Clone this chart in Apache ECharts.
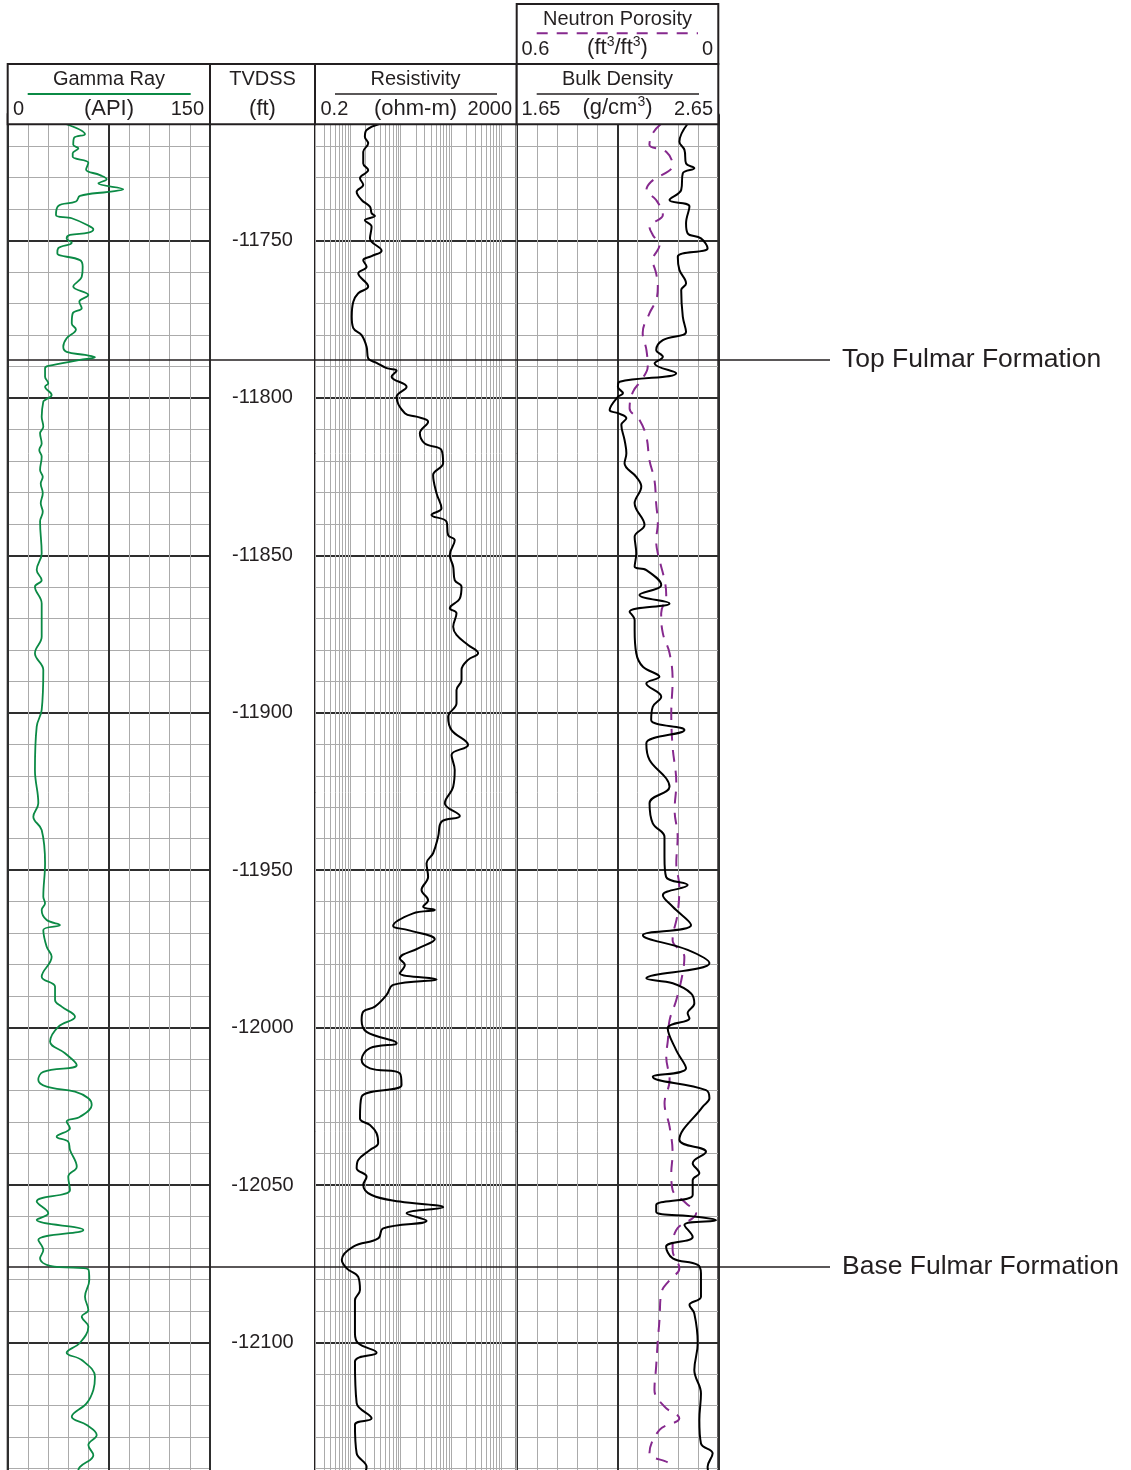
<!DOCTYPE html>
<html>
<head>
<meta charset="utf-8">
<title>Fulmar Formation well log</title>
<script src="https://cdn.jsdelivr.net/npm/echarts@6/dist/echarts.min.js"></script>
<style>
html, body { margin: 0; padding: 0; background: #fff; overflow: hidden; }
#chart { width: 1131px; height: 1470px; }
</style>
</head>
<body>
<div id="chart"></div>
<script>
// ---------------- depth scale (TVDSS, ft) ----------------
const depthMin = -12150;
const depthMax = -11710;
const depthLabelStep = 50;

// ---------------- formation tops ----------------
const formationNames  = ['Top Fulmar Formation', 'Base Fulmar Formation'];
const formationDepths = [-11788, -12076];

// ---------------- Gamma Ray (API) ----------------
const grDepth = [
  -11713.0, -11716.3, -11717.5, -11719.7, -11720.8, -11722.4, -11723.5, -11725.4, -11727.5, -11729.3,
  -11730.6, -11731.9, -11733.8, -11734.6, -11735.9, -11737.7, -11739.1, -11742.0, -11743.0, -11745.5,
  -11746.5, -11747.6, -11748.3, -11749.4, -11750.8, -11752.5, -11754.1, -11756.3, -11758.4, -11761.6,
  -11764.7, -11767.4, -11769.5, -11771.6, -11773.2, -11776.4, -11778.3, -11781.1, -11783.8, -11785.4,
  -11786.4, -11787.1, -11788.0, -11789.9, -11790.6, -11793.3, -11795.4, -11796.5, -11799.1, -11800.7,
  -11801.2, -11806.0, -11809.2, -11811.3, -11814.5, -11816.6, -11818.7, -11822.9, -11825.1, -11827.2,
  -11830.3, -11833.5, -11836.2, -11839.3, -11849.4,
  -11854.7, -11857.9, -11860.0, -11865.3, -11875.9, -11881.1, -11886.4, -11899.1, -11904.4, -11918.2,
  -11928.7, -11933.0, -11937.2, -11947.8, -11958.4, -11960.5, -11962.6, -11965.8, -11967.4, -11969.0,
  -11974.3, -11977.5, -11983.8, -11987.0, -11991.2, -11993.3, -11996.5, -11999.7, -12004.4, -12008.1,
  -12011.8, -12014.0, -12016.6, -12018.7, -12020.3, -12022.4, -12024.5, -12028.3, -12029.8, -12031.9,
  -12034.6, -12036.2, -12038.8, -12044.1, -12047.3, -12051.5, -12055.2, -12058.9, -12061.0, -12064.2,
  -12067.4, -12070.6, -12073.2, -12075.6, -12076.7, -12080.1, -12085.4, -12089.6, -12091.7, -12094.9,
  -12100.0, -12103.2, -12105.5, -12110.8, -12115.0, -12119.2, -12123.5, -12126.1, -12129.3, -12132.5,
  -12135.7, -12139.4, -12141.0
];
const grValue = [
  42.5, 57.3, 49.2, 48.6, 52.4, 48.2, 48.2, 59.8, 58.1, 68.4,
  73.4, 67.2, 85.7, 74.6, 53.6, 50.6, 37.5, 35.8, 47.5, 60.5,
  63.5, 59.8, 46.2, 43.7, 47.5, 37.5, 36.8, 53.6, 55.6, 54.9,
  48.6, 59.8, 53.1, 54.9, 48.2, 47.5, 50.6, 43.7, 41.2, 43.7,
  57.3, 64.7, 53.6, 30.1, 27.7, 27.7, 30.1, 27.7, 32.6, 27.7,
  26.4, 25.2, 26.4, 24.0, 25.2, 23.4, 25.2, 24.0, 26.0, 24.5,
  26.0, 24.5, 26.0, 24.0, 25.2,
  21.5, 25.2, 20.2, 25.2, 25.2, 20.2, 26.4, 25.2, 21.5, 20.2,
  22.7, 19.0, 25.2, 27.7, 26.4, 27.7, 25.2, 28.9, 38.8, 26.4,
  28.9, 32.6, 25.2, 35.1, 35.1, 40.0, 49.9, 37.5, 31.4, 42.5,
  51.2, 26.4, 22.7, 28.9, 49.9, 59.8, 62.3, 53.6, 43.7, 46.2,
  36.3, 44.9, 46.2, 51.2, 44.9, 46.2, 21.5, 30.1, 21.5, 56.1,
  22.7, 26.4, 24.0, 31.4, 59.8, 60.5, 57.3, 59.8, 54.9, 59.8,
  53.6, 43.7, 54.9, 64.7, 63.5, 58.6, 47.5, 58.6, 66.0, 59.8,
  63.5, 53.6, 52.0
];

// ---------------- Resistivity (ohm-m) ----------------
const resDepth = [
  -11713.0, -11715.0, -11717.1, -11719.2, -11721.9, -11725.6, -11727.7, -11730.3, -11732.4, -11734.6,
  -11737.2, -11739.3, -11741.4, -11742.3, -11743.6, -11745.7, -11749.4, -11753.3, -11755.0, -11756.3,
  -11758.4, -11760.5, -11764.7, -11766.8, -11769.5, -11774.3, -11777.9, -11780.1, -11783.8, -11787.5,
  -11788.9, -11790.6, -11791.4, -11793.3, -11796.5, -11799.7, -11804.9, -11806.0, -11807.6, -11811.3,
  -11814.5, -11816.6, -11820.8, -11824.5, -11830.3, -11835.1, -11837.2, -11839.3, -11843.6, -11845.2,
  -11849.9, -11853.6, -11857.9, -11860.0, -11863.7, -11866.8, -11868.4, -11872.7, -11875.3, -11878.5,
  -11881.1, -11883.2, -11886.4, -11889.6, -11892.8, -11897.0, -11901.3, -11905.5, -11910.2, -11913.4,
  -11918.2, -11923.5, -11928.7, -11932.8, -11934.6, -11939.4, -11944.6, -11947.8, -11952.1, -11956.3,
  -11959.5, -11961.6, -11962.6, -11963.7, -11967.7, -11969.0, -11971.9, -11974.8, -11978.0, -11980.1,
  -11982.7, -11984.6, -11986.4, -11989.6, -11993.3, -11994.9, -11997.6, -12001.3, -12004.9, -12006.5,
  -12010.2, -12012.9, -12014.5, -12018.2, -12021.9, -12028.8, -12030.9, -12033.5, -12036.7, -12038.8,
  -12042.0, -12044.6, -12047.3, -12049.9, -12053.1, -12055.2, -12057.0, -12058.9, -12061.3, -12063.7,
  -12066.9, -12069.5, -12073.7, -12076.4, -12079.1, -12083.3, -12086.5, -12097.0, -12100.2, -12103.2,
  -12106.0, -12119.2, -12124.0, -12126.1, -12135.1, -12139.4, -12141.0
];
const resValue = [
  3.9, 2.11, 1.95, 2.27, 1.81, 1.81, 2.27, 1.56, 1.81, 1.34,
  1.68, 2.46, 2.65, 3.08, 1.95, 2.65, 2.46, 4.19, 2.65, 1.81,
  2.11, 1.44, 2.27, 1.44, 1.15, 1.07, 1.15, 1.68, 2.11, 2.27,
  3.33, 5.26, 8.30, 6.61, 13.1, 8.30, 12.1, 20.6, 35.0, 24.0,
  30.1, 64.5, 69.5, 44.0, 51.4, 64.5, 40.9, 81.1, 87.3, 118,
  94.2, 110, 118, 161, 149, 94.2, 128, 110, 128, 217,
  343, 217, 161, 161, 128, 128, 87.3, 102, 217, 102,
  118, 110, 75.0, 149, 64.5, 55.3, 44.0, 32.6, 35.0, 25.9,
  35.0, 27.9, 47.5, 17.7, 7.10, 14.1, 47.5, 22.2, 9.64, 12.1,
  9.64, 51.4, 7.10, 5.26, 3.08, 1.81, 1.68, 2.11, 8.30, 2.46,
  1.68, 2.46, 9.64, 10.4, 1.68, 1.56, 2.46, 3.33, 3.58, 2.46,
  1.44, 1.34, 2.11, 1.81, 2.65, 9.64, 69.5, 13.1, 32.6, 4.50,
  3.58, 1.15, 0.68, 0.85, 1.44, 1.56, 1.24, 1.24, 1.44, 3.33,
  1.24, 1.34, 2.65, 1.24, 1.34, 2.11, 2.0
];

// ---------------- Bulk Density (g/cm3) ----------------
const denDepth = [
  -11713.0, -11718.7, -11721.3, -11725.6, -11727.1, -11728.7, -11734.0, -11737.2, -11739.3, -11744.6,
  -11747.8, -11749.4, -11752.5, -11755.2, -11759.4, -11763.7, -11765.8, -11774.3, -11779.0, -11781.7,
  -11784.8, -11787.0, -11789.1, -11792.2, -11794.9, -11796.5, -11798.6, -11799.7, -11803.9, -11804.9,
  -11806.5, -11808.6, -11813.4, -11817.6, -11820.8, -11825.1, -11828.2, -11833.5, -11840.4, -11844.1,
  -11849.4, -11853.6, -11854.7, -11859.4, -11862.6, -11865.3, -11867.9, -11870.6, -11873.7, -11881.1,
  -11885.4, -11888.6, -11890.7, -11894.9, -11898.1, -11902.3, -11905.5, -11909.7, -11915.0, -11920.8,
  -11923.5, -11928.7, -11935.1, -11939.4, -11945.7, -11952.1, -11954.7, -11957.9, -11961.6, -11967.4,
  -11970.6, -11975.3, -11979.5, -11984.3, -11985.9, -11989.1, -11992.3, -11995.4, -11997.0, -12000.2,
  -12007.1, -12012.9, -12015.6, -12019.8, -12022.4, -12025.1, -12035.6, -12039.4, -12043.0, -12046.2,
  -12048.4, -12053.1, -12056.3, -12058.4, -12060.0, -12061.1, -12062.6, -12066.4, -12069.5, -12073.2,
  -12075.3, -12078.0, -12085.4, -12088.0, -12090.7, -12100.2, -12108.7, -12116.1, -12124.5, -12132.0,
  -12135.1, -12139.4, -12141.0
];
const denValue = [
  2.498, 2.457, 2.482, 2.490, 2.531, 2.474, 2.466, 2.408, 2.507, 2.490,
  2.498, 2.564, 2.597, 2.449, 2.457, 2.490, 2.466, 2.474, 2.490, 2.375,
  2.342, 2.375, 2.334, 2.441, 2.161, 2.152, 2.177, 2.152, 2.111, 2.152,
  2.194, 2.169, 2.185, 2.194, 2.185, 2.243, 2.268, 2.235, 2.284, 2.235,
  2.243, 2.235, 2.293, 2.367, 2.259, 2.408, 2.210, 2.235, 2.235, 2.243,
  2.276, 2.358, 2.293, 2.367, 2.325, 2.317, 2.482, 2.293, 2.309, 2.391,
  2.408, 2.309, 2.325, 2.383, 2.383, 2.391, 2.498, 2.375, 2.424, 2.515,
  2.276, 2.498, 2.606, 2.293, 2.424, 2.515, 2.531, 2.498, 2.507, 2.399,
  2.441, 2.490, 2.325, 2.589, 2.606, 2.572, 2.457, 2.589, 2.523, 2.556,
  2.523, 2.523, 2.342, 2.342, 2.540, 2.639, 2.482, 2.523, 2.391, 2.424,
  2.548, 2.564, 2.564, 2.507, 2.531, 2.548, 2.531, 2.564, 2.556, 2.564,
  2.622, 2.597, 2.600
];

// ---------------- Neutron Porosity (ft3/ft3) ----------------
const nphiDepth = [
  -11713.0, -11716.0, -11719.7, -11721.9, -11726.1, -11731.4, -11734.0, -11737.2, -11742.0, -11745.7,
  -11748.3, -11751.5, -11756.3, -11760.5, -11764.7, -11769.0, -11773.2, -11779.4, -11784.8, -11790.1,
  -11794.4, -11798.1, -11803.3, -11807.1, -11812.4, -11819.8, -11826.1, -11833.5, -11839.9, -11845.2,
  -11849.4, -11857.9, -11862.6, -11868.4, -11874.8, -11881.1, -11889.6, -11900.2, -11910.8, -11922.4,
  -11930.9, -11939.4, -11947.8, -11955.2, -11963.7, -11972.2, -11977.5, -11982.7, -11991.2, -11997.6,
  -12003.9, -12009.2, -12016.6, -12024.0, -12031.4, -12039.9, -12046.2, -12051.5, -12055.7, -12058.9,
  -12064.2, -12070.6, -12076.4, -12080.1, -12084.3, -12092.8, -12099.2, -12107.6, -12115.0, -12120.3,
  -12124.0, -12127.7, -12135.1, -12138.8, -12141.0
];
const nphiValue = [
  0.170, 0.195, 0.205, 0.155, 0.136, 0.200, 0.214, 0.185, 0.165, 0.205,
  0.195, 0.175, 0.195, 0.185, 0.180, 0.185, 0.205, 0.225, 0.214, 0.210,
  0.229, 0.254, 0.264, 0.234, 0.214, 0.205, 0.190, 0.185, 0.180, 0.185,
  0.180, 0.160, 0.155, 0.170, 0.165, 0.145, 0.136, 0.140, 0.136, 0.125,
  0.130, 0.121, 0.125, 0.116, 0.121, 0.136, 0.101, 0.106, 0.125, 0.145,
  0.150, 0.155, 0.145, 0.160, 0.145, 0.136, 0.140, 0.136, 0.096, 0.066,
  0.125, 0.136, 0.116, 0.145, 0.170, 0.175, 0.180, 0.185, 0.190, 0.160,
  0.116, 0.175, 0.205, 0.145, 0.150
];

// ---------------- track scales ----------------
const grRange   = [0, 150];
const resRange  = [0.2, 2000];
const denRange  = [1.65, 2.65];
const nphiRange = [0, 0.6];   // plotted right-to-left (0.6 on the left)

// ---------------- layout & styles ----------------
const FONT = '"Liberation Sans", Arial, Helvetica, sans-serif';
const INK = '#231f20';
const GRID_LIGHT = '#ababab';
const GRID_HEAVY = '#2e2e2e';
const GR_COLOR = '#0b8a45';
const NPHI_COLOR = '#86298e';

const PLOT_TOP = 114.3;
const PLOT_HEIGHT = 1385.9;
const HEAD_TOP = 64, HEAD_BOTTOM = 124.3, NEUT_TOP = 4;
const X_GR = 7.7, X_DEPTH = 210, X_RES = 315, X_DEN = 516.7, X_END = 718.3;

function pairs(depths, values) {
  const n = Math.min(depths.length, values.length);
  const out = [];
  for (let i = 0; i < n; i++) out.push([values[i], depths[i]]);
  return out;
}

// log-decade grid values for the resistivity track (1..9 x 10^n)
const resGridValues = [];
for (let e = -1; e <= 3; e++) {
  for (let k = 1; k <= 9; k++) {
    const v = +(k * Math.pow(10, e)).toPrecision(2);
    if (v >= resRange[0] && v <= resRange[1]) resGridValues.push(v);
  }
}

function gridBox(left, right, border) {
  return {
    left: left, width: right - left, top: PLOT_TOP, height: PLOT_HEIGHT,
    outerBoundsMode: 'none',
    show: border, borderColor: INK, borderWidth: 2
  };
}

function depthAxis(gridIndex, step, color, width, opts) {
  return Object.assign({
    type: 'value', gridIndex: gridIndex, min: depthMin, max: depthMax, interval: step,
    axisLine: { show: false }, axisTick: { show: false }, axisLabel: { show: false },
    splitLine: color ? { show: true, lineStyle: { color: color, width: width } } : { show: false }
  }, opts || {});
}

function valueAxis(gridIndex, range, step, color, width, opts) {
  return Object.assign({
    type: 'value', gridIndex: gridIndex, min: range[0], max: range[1], interval: step,
    axisLine: { show: false }, axisTick: { show: false }, axisLabel: { show: false },
    splitLine: color ? { show: true, lineStyle: { color: color, width: width } } : { show: false }
  }, opts || {});
}

// ---------------- header graphics ----------------
function box(x1, y1, x2, y2) {
  return { type: 'rect', z: 100, shape: { x: x1, y: y1, width: x2 - x1, height: y2 - y1 },
           style: { fill: '#fff', stroke: INK, lineWidth: 2 } };
}
const supRich = {
  n: { fontSize: 22, fontFamily: FONT, fill: INK },
  s: { fontSize: 14, fontFamily: FONT, fill: INK, padding: [0, 0, 11, 0] }
};
function label(x, y, text, align, size) {
  return { type: 'text', z: 101, x: x, y: y,
           style: { text: text, fill: INK, fontSize: size || 20, fontFamily: FONT,
                    align: align || 'center', verticalAlign: 'middle', rich: supRich } };
}
function rule(x1, x2, y, color, width, dash) {
  return { type: 'line', z: 101, shape: { x1: x1, y1: y, x2: x2, y2: y },
           style: { stroke: color, lineWidth: width, lineDash: dash || null } };
}

const UNIT = 22;
const headerGraphics = [
  box(X_GR, HEAD_TOP, X_DEPTH, HEAD_BOTTOM),
  box(X_DEPTH, HEAD_TOP, X_RES, HEAD_BOTTOM),
  box(X_RES, HEAD_TOP, X_DEN, HEAD_BOTTOM),
  box(X_DEN, HEAD_TOP, X_END, HEAD_BOTTOM),
  box(X_DEN, NEUT_TOP, X_END, HEAD_TOP),

  label(109, 79.5, 'Gamma Ray'),
  rule(27.7, 190.7, 94, GR_COLOR, 2),
  label(13, 109, '0', 'left'),
  label(109, 109, '(API)', 'center', UNIT),
  label(204, 109, '150', 'right'),

  label(262.5, 79.5, 'TVDSS'),
  label(262.5, 109, '(ft)', 'center', UNIT),

  label(415.5, 79.5, 'Resistivity'),
  rule(335, 497, 94, INK, 1.6),
  label(320.5, 109, '0.2', 'left'),
  label(415.5, 109, '(ohm-m)', 'center', UNIT),
  label(512, 109, '2000', 'right'),

  label(617.5, 79.5, 'Bulk Density'),
  rule(536.7, 699, 94, INK, 1.6),
  label(521.5, 109, '1.65', 'left'),
  label(617.5, 107.5, '{n|(g/cm}{s|3}{n|)}'),
  label(713, 109, '2.65', 'right'),

  label(617.5, 19.5, 'Neutron Porosity'),
  rule(536.7, 698, 33.3, NPHI_COLOR, 2, [11, 9]),
  label(521.5, 49.3, '0.6', 'left'),
  label(617.5, 47.8, '{n|(ft}{s|3}{n|/ft}{s|3}{n|)}'),
  label(713, 49.3, '0', 'right')
];

// ---------------- chart ----------------
const chart = echarts.init(document.getElementById('chart'), null, { renderer: 'canvas' });

const option = {
  backgroundColor: '#fff',
  animation: false,
  grid: [
    gridBox(X_GR, X_DEPTH, true),     // 0 gamma ray
    gridBox(X_DEPTH, X_RES, true),    // 1 depth labels
    gridBox(X_RES, X_DEN, true),      // 2 resistivity
    gridBox(X_DEN, X_END, true),      // 3 density / neutron
    gridBox(X_GR, 830, false)         // 4 formation tops across the panel
  ],
  xAxis: [
    valueAxis(0, grRange, 15, GRID_LIGHT, 1),
    valueAxis(0, grRange, 75, GRID_HEAVY, 2, { position: 'top' }),
    valueAxis(1, [0, 1], 1, null, 0),
    { type: 'log', logBase: 10, gridIndex: 2, min: resRange[0], max: resRange[1],
      axisLine: { show: false }, axisTick: { show: false }, axisLabel: { show: false },
      splitLine: { show: false } },
    valueAxis(3, denRange, 0.1, GRID_LIGHT, 1),
    valueAxis(3, denRange, 0.5, GRID_HEAVY, 2, { position: 'top' }),
    valueAxis(3, nphiRange, 0.1, null, 0, { inverse: true }),
    valueAxis(4, [0, 1], 1, null, 0)
  ],
  yAxis: [
    depthAxis(0, 10, GRID_LIGHT, 1),
    depthAxis(0, depthLabelStep, GRID_HEAVY, 2),
    depthAxis(1, depthLabelStep, null, 0, {
      axisLabel: {
        show: true, inside: true, margin: 52.5, align: 'center',
        color: INK, fontSize: 20, fontFamily: FONT,
        formatter: function (v) { return v % depthLabelStep === 0 ? String(v) : ''; }
      }
    }),
    depthAxis(2, 10, GRID_LIGHT, 1),
    depthAxis(2, depthLabelStep, GRID_HEAVY, 2),
    depthAxis(3, 10, GRID_LIGHT, 1),
    depthAxis(3, depthLabelStep, GRID_HEAVY, 2),
    depthAxis(4, 10, null, 0)
  ],
  series: [
    {
      name: 'Gamma Ray', type: 'line', xAxisIndex: 0, yAxisIndex: 0, z: 5,
      data: pairs(grDepth, grValue), smooth: 0.4, showSymbol: false, symbol: 'none',
      lineStyle: { color: GR_COLOR, width: 1.8 }
    },
    {
      name: 'Resistivity grid', type: 'line', xAxisIndex: 3, yAxisIndex: 3, z: 1,
      data: [], silent: true,
      markLine: {
        silent: true, symbol: 'none', animation: false,
        label: { show: false },
        lineStyle: { color: GRID_LIGHT, width: 1, type: 'solid' },
        data: resGridValues.map(function (v) { return { xAxis: v }; })
      }
    },
    {
      name: 'Resistivity', type: 'line', xAxisIndex: 3, yAxisIndex: 3, z: 5,
      data: pairs(resDepth, resValue), smooth: 0.4, showSymbol: false, symbol: 'none',
      lineStyle: { color: '#000', width: 2 }
    },
    {
      name: 'Neutron Porosity', type: 'line', xAxisIndex: 6, yAxisIndex: 5, z: 5,
      data: pairs(nphiDepth, nphiValue), smooth: 0.4, showSymbol: false, symbol: 'none',
      lineStyle: { color: NPHI_COLOR, width: 2, type: [12, 9] }
    },
    {
      name: 'Bulk Density', type: 'line', xAxisIndex: 4, yAxisIndex: 5, z: 6,
      data: pairs(denDepth, denValue), smooth: 0.4, showSymbol: false, symbol: 'none',
      lineStyle: { color: '#000', width: 2 }
    },
    {
      name: 'Formation tops', type: 'line', xAxisIndex: 7, yAxisIndex: 7, z: 7,
      data: [], silent: true,
      markLine: {
        silent: true, symbol: 'none', animation: false,
        lineStyle: { color: INK, width: 1.6, type: 'solid' },
        label: {
          show: true, position: 'end', distance: 12, formatter: '{b}',
          color: INK, fontSize: 26.5, fontFamily: FONT
        },
        data: formationNames.map(function (n, i) { return { name: n, yAxis: formationDepths[i] }; })
      }
    }
  ],
  graphic: { elements: headerGraphics }
};

chart.setOption(option);
</script>
</body>
</html>
